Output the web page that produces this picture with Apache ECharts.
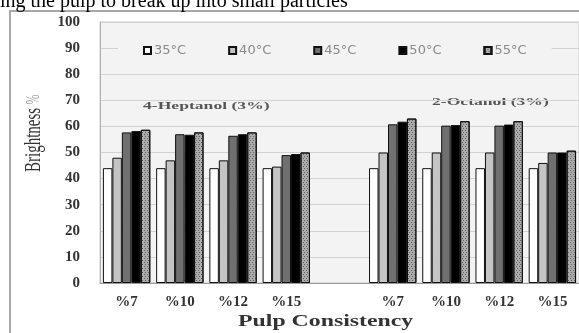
<!DOCTYPE html>
<html>
<head>
<meta charset="utf-8">
<script src="https://cdn.jsdelivr.net/npm/echarts@6/dist/echarts.min.js"></script>
<style>
  html, body { margin: 0; padding: 0; background: #ffffff; }
  #chart { width: 579px; height: 333px; }
</style>
</head>
<body>
<div id="chart"></div>
<script>
// Pulp consistency groups for the two frothers; the empty slot separates them
const categories = ['%7', '%10', '%12', '%15', '', '%7', '%10', '%12', '%15'];

// Brightness (%) per temperature, left block 4-Heptanol, right block 2-Octanol
const temp35 = [44, 44, 44, 44, null, 44, 44, 44, 44];
const temp40 = [48, 47, 47, 44.6, null, 50, 50, 50, 46];
const temp45 = [57.7, 57, 56.4, 49, null, 60.8, 60.3, 60.3, 50];
const temp50 = [58.2, 56.8, 57, 49.4, null, 61.8, 60.5, 60.7, 50];
const temp55 = [58.7, 57.7, 57.7, 50, null, 63, 62, 62, 50.7];

const seriesNames = ['35°C', '40°C', '45°C', '50°C', '55°C'];
const yTicks = { min: 0, max: 100, step: 10 };

const chart = echarts.init(document.getElementById('chart'), null, { renderer: 'canvas' });

const border = { borderColor: '#111111', borderWidth: 1 };
const fills = [
  { color: '#ffffff' },
  { color: '#c4c4c4' },
  { color: '#707070' },
  { color: '#000000' },
  {
    color: '#acacac',
    decal: {
      symbol: 'rect',
      symbolSize: 0.8,
      color: 'rgba(50,50,50,0.8)',
      dashArrayX: [[1, 2], [0, 1, 1, 1]],
      dashArrayY: [1, 1],
      rotation: 0
    }
  }
];
const values = [temp35, temp40, temp45, temp50, temp55];

const series = values.map((data, i) => ({
  name: seriesNames[i],
  type: 'bar',
  data: data,
  barGap: '0%',
  barCategoryGap: '11%',
  itemStyle: Object.assign({}, fills[i], border)
}));

const serif = '"Liberation Serif", "Times New Roman", serif';

chart.setOption({
  animation: false,
  backgroundColor: '#ffffff',
  grid: {
    left: 100, top: 22, width: 480, height: 261,
    show: true, backgroundColor: '#f3f3f3',
    borderColor: '#c8c8c8', borderWidth: 1
  },
  legend: {
    data: seriesNames,
    left: 118, top: 39,
    padding: [5, 25, 5, 25],
    backgroundColor: '#f3f3f3',
    itemWidth: 7, itemHeight: 7, itemGap: 42,
    icon: 'rect',
    textStyle: { fontFamily: '"DejaVu Sans", sans-serif', fontSize: 13, color: '#8a8a8a', padding: [0, 0, 0, -2] }
  },
  xAxis: {
    type: 'category',
    data: categories,
    axisLine: { lineStyle: { color: '#9a9a9a' } },
    axisTick: { show: false },
    axisLabel: { interval: 0, margin: 12, fontFamily: serif, fontWeight: 'bold', fontSize: 15, color: '#333333' },
    splitLine: { show: false }
  },
  yAxis: {
    type: 'value',
    min: yTicks.min, max: yTicks.max, interval: yTicks.step,
    axisLine: { show: true, lineStyle: { color: '#b0b0b0' } },
    axisTick: { show: false },
    axisLabel: { margin: 20, fontFamily: serif, fontWeight: 'bold', fontSize: 15, color: '#333333' },
    splitLine: { lineStyle: { color: '#d2d2d2' } }
  },
  series: series,
  graphic: [
    {
      type: 'rect', silent: true, z: 0,
      shape: { x: 10, y: 11, width: 620, height: 340 },
      style: { fill: 'none', stroke: '#a8a8a8', lineWidth: 2 }
    },
    {
      type: 'text', silent: true,
      x: 0, y: -8,
      style: { text: 'ing the pulp to break up into small particles', font: '20px ' + serif, fill: '#000000' }
    },
    {
      type: 'text', silent: true,
      x: 22, y: 172, rotation: Math.PI / 2, scaleY: 1.6,
      style: {
        text: '{a|Brightness} {b|%}',
        rich: {
          a: { fontFamily: serif, fontSize: 15, fill: '#333333' },
          b: { fontFamily: serif, fontSize: 12, fill: '#9a9a9a' }
        }
      }
    },
    {
      type: 'text', silent: true,
      x: 143, y: 101, scaleX: 1.6,
      style: { text: '4-Heptanol (3%)', font: 'bold 11px ' + serif, fill: '#555555' }
    },
    {
      type: 'text', silent: true,
      x: 432, y: 97, scaleX: 1.6,
      style: { text: '2-Octanol (3%)', font: 'bold 11px ' + serif, fill: '#555555' }
    },
    {
      type: 'text', silent: true,
      x: 238, y: 313, scaleX: 1.4,
      style: { text: 'Pulp Consistency', font: 'bold 17px ' + serif, fill: '#333333' }
    }
  ]
});
</script>
</body>
</html>
